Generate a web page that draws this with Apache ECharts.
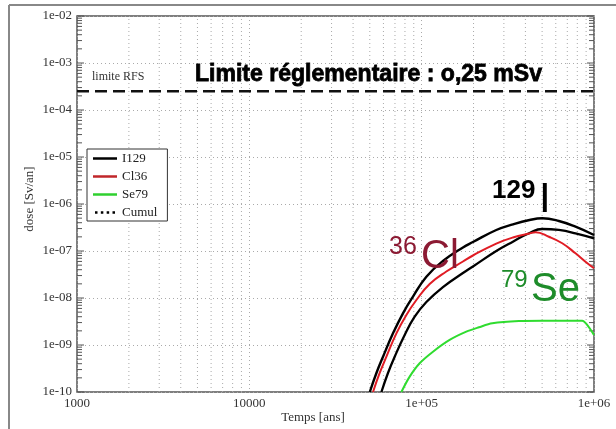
<!DOCTYPE html>
<html><head><meta charset="utf-8">
<script src="https://cdn.jsdelivr.net/npm/echarts@6/dist/echarts.min.js"></script>
<style>html,body{margin:0;padding:0;background:#fff}#c{width:616px;height:429px}</style>
</head><body><div id="c"></div>
<script>
// ---- data ----
const cumulT = [50000, 54640, 59670, 68180, 77900, 89060, 106500, 132900, 173600, 198400, 271000, 338300, 422800, 500800, 625200, 781000, 1000000];
const cumulV = [1.0e-10, 2.54e-10, 5.64e-10, 1.77e-9, 4.72e-9, 1.07e-8, 2.84e-8, 6.12e-8, 1.19e-7, 1.55e-7, 2.80e-7, 3.70e-7, 4.57e-7, 4.96e-7, 4.35e-7, 3.29e-7, 2.19e-7];
const i129T = [58400, 63760, 69730, 79690, 91080, 106500, 132900, 173600, 198400, 271000, 338300, 422800, 500800, 625200, 781000, 1000000];
const i129V = [1.0e-10, 2.54e-10, 5.64e-10, 1.63e-9, 4.0e-9, 8.22e-9, 1.71e-8, 3.40e-8, 4.68e-8, 1.0e-7, 1.58e-7, 2.42e-7, 2.94e-7, 2.80e-7, 2.38e-7, 1.86e-7];
const cl36T = [52210, 57080, 62430, 71340, 81520, 93180, 111270, 139060, 173600, 198400, 271000, 338300, 422800, 458000, 547000, 654300, 781000, 892500, 1000000];
const cl36V = [1.0e-10, 2.54e-10, 5.64e-10, 1.77e-9, 4.35e-9, 9.06e-9, 1.99e-8, 3.66e-8, 5.98e-8, 8.02e-8, 1.44e-7, 1.94e-7, 2.36e-7, 2.50e-7, 2.01e-7, 1.46e-7, 8.93e-8, 5.92e-8, 4.28e-8];
const se79T = [76250, 85200, 97360, 116300, 145300, 181600, 214900, 257000, 366600, 500800, 854400, 912900, 1000000];
const se79V = [1.0e-10, 2.12e-10, 4.08e-10, 7.2e-10, 1.28e-9, 1.92e-9, 2.38e-9, 2.90e-9, 3.24e-9, 3.29e-9, 3.29e-9, 2.67e-9, 1.63e-9];
const limitValue = 2.5e-4;
const seriesNames = ['I129', 'Cl36', 'Se79', 'Cumul'];
const xTitle = 'Temps [ans]';
const yTitle = 'dose [Sv/an]';
const xMin = 1000, xMax = 1e6, yMin = 1e-10, yMax = 1e-2;

// minor grid / tick values (2..9 per decade)
const xMinorVals = [];
for (let d = 3; d < 6; d++) for (let m = 2; m <= 9; m++) xMinorVals.push(m * Math.pow(10, d));
const yTickVals = [];
for (let d = -10; d < -2; d++) for (let m = 1; m <= 9; m++) yTickVals.push([m * Math.pow(10, d), m === 1 ? 1 : 0]);
yTickVals.push([1e-2, 1]);

const zip = (a, b) => a.map((t, i) => [t, b[i]]);
const SERIF = 'Liberation Serif';

function yFmt(v) {
  const e = Math.round(Math.log10(v));
  return '1e' + (e < 0 ? '-' : '+') + String(Math.abs(e)).padStart(2, '0');
}
function xFmt(v) {
  const e = Math.round(Math.log10(v));
  if (e <= 4) return String(Math.round(v));
  return '1e+' + String(e).padStart(2, '0');
}

const dotsIcon = 'path://M0,0h3v3h-3z M7,0h3v3h-3z M14,0h3v3h-3z M21,0h3v3h-3z';

const chart = echarts.init(document.getElementById('c'), null, {renderer: 'canvas'});
chart.setOption({
  backgroundColor: '#fff',
  animation: false,
  grid: {left: 77, top: 16, right: 22, bottom: 37, show: true, borderColor: '#555', borderWidth: 1.5, backgroundColor: 'transparent'},
  xAxis: {
    type: 'log', logBase: 10, min: xMin, max: xMax, splitNumber: 3,
    axisLine: {show: false}, axisTick: {show: false},
    axisLabel: {formatter: xFmt, fontFamily: SERIF, fontSize: 13, color: '#333', margin: 5},
    splitLine: {show: true, lineStyle: {color: '#aaa', type: [1, 3], width: 1}}
  },
  yAxis: {
    type: 'log', logBase: 10, min: yMin, max: yMax, splitNumber: 8,
    axisLine: {show: false}, axisTick: {show: false},
    axisLabel: {formatter: yFmt, fontFamily: SERIF, fontSize: 13, color: '#333', margin: 5},
    splitLine: {show: true, lineStyle: {color: '#aaa', type: [1, 3], width: 1}}
  },
  legend: {
    orient: 'vertical', left: 87, top: 149,
    padding: [3, 10, 2, 6], itemWidth: 24, itemHeight: 2.5, itemGap: 5,
    icon: 'rect',
    borderColor: '#333', borderWidth: 1, backgroundColor: '#fff', borderRadius: 0,
    textStyle: {fontFamily: SERIF, fontSize: 13, color: '#222'},
    data: [
      {name: 'I129'}, {name: 'Cl36'}, {name: 'Se79'},
      {name: 'Cumul', icon: dotsIcon}
    ]
  },
  series: [
    {
      type: 'custom', name: 'xminor', silent: true, z: 1,
      data: xMinorVals.map(v => [v, yMin]),
      encode: {x: 0, y: 1},
      renderItem: function (params, api) {
        const v = api.value(0);
        const p1 = api.coord([v, yMin]), p2 = api.coord([v, yMax]);
        return {type: 'line', shape: {x1: p1[0], y1: p1[1], x2: p2[0], y2: p2[1]},
          style: {stroke: '#aaa', lineWidth: 1, lineDash: [1, 3]}};
      }
    },
    {
      type: 'custom', name: 'yticks', silent: true, z: 3,
      data: yTickVals.map(p => [xMin, p[0], p[1]]),
      encode: {x: 0, y: 1},
      renderItem: function (params, api) {
        const v = api.value(1), major = api.value(2);
        const L = api.coord([xMin, v]), R = api.coord([xMax, v]);
        const len = major ? 7 : 5;
        return {type: 'group', children: [
          {type: 'line', shape: {x1: L[0], y1: L[1], x2: L[0] + len, y2: L[1]}, style: {stroke: '#555', lineWidth: 1}},
          {type: 'line', shape: {x1: R[0], y1: R[1], x2: R[0] - len, y2: R[1]}, style: {stroke: '#555', lineWidth: 1}}
        ]};
      }
    },
    {name: 'limite', type: 'line', data: [[xMin, limitValue], [xMax, limitValue]], symbol: 'none', silent: true,
      lineStyle: {color: '#111', type: [12, 6], width: 2.5}, z: 4},
    {name: 'I129', type: 'line', data: zip(i129T, i129V), showSymbol: false, symbol: 'none', smooth: 0.45,
      lineStyle: {color: '#000', width: 2.3}, itemStyle: {color: '#000'}, z: 5},
    {name: 'Cl36', type: 'line', data: zip(cl36T, cl36V), showSymbol: false, symbol: 'none', smooth: 0.45,
      lineStyle: {color: '#e01c24', width: 2}, itemStyle: {color: '#c0262a'}, z: 5},
    {name: 'Se79', type: 'line', data: zip(se79T, se79V), showSymbol: false, symbol: 'none', smooth: 0.3,
      lineStyle: {color: '#2fdc2f', width: 2}, itemStyle: {color: '#2fd02f'}, z: 5},
    {name: 'Cumul', type: 'line', data: zip(cumulT, cumulV), showSymbol: false, symbol: 'none', smooth: 0.45,
      lineStyle: {color: '#000', width: 2.4}, itemStyle: {color: '#000'}, z: 5}
  ],
  graphic: [
    {type: 'line', shape: {x1: 9, y1: 5, x2: 616, y2: 5}, style: {stroke: '#888', lineWidth: 2}, z: 0},
    {type: 'line', shape: {x1: 9, y1: 5, x2: 9, y2: 429}, style: {stroke: '#888', lineWidth: 2}, z: 0},
    {type: 'text', x: 92, y: 77, style: {text: 'limite RFS', font: '12px "Liberation Serif"', fill: '#333', textVerticalAlign: 'middle'}, z: 10},
    {type: 'text', x: 195, y: 74, scaleX: 0.96, style: {text: 'Limite réglementaire : o,25 mSv', font: 'bold 24px "Liberation Sans"', fill: '#000', stroke: '#000', lineWidth: 0.8, textVerticalAlign: 'middle'}, z: 10},
    {type: 'text', x: 30, y: 199, rotation: Math.PI / 2, style: {text: yTitle, font: '13px "Liberation Serif"', fill: '#333', textAlign: 'center', textVerticalAlign: 'middle'}, z: 10},
    {type: 'text', x: 313, y: 418, style: {text: xTitle, font: '13px "Liberation Serif"', fill: '#333', textAlign: 'center', textVerticalAlign: 'middle'}, z: 10},
    {type: 'text', x: 492, y: 191, style: {text: '129', font: 'bold 26px "Liberation Sans"', fill: '#000', textVerticalAlign: 'middle'}, z: 10},
    {type: 'text', x: 539, y: 200, style: {text: 'I', font: '42px "Liberation Sans"', fill: '#000', textVerticalAlign: 'middle'}, z: 10},
    {type: 'text', x: 389, y: 247.5, style: {text: '36', font: '25px "Liberation Sans"', fill: '#8c1a33', textVerticalAlign: 'middle'}, z: 10},
    {type: 'text', x: 421, y: 257, style: {text: 'Cl', font: '40px "Liberation Sans"', fill: '#8c1a33', textVerticalAlign: 'middle'}, z: 10},
    {type: 'text', x: 501, y: 280, style: {text: '79', font: '24px "Liberation Sans"', fill: '#1e8c2a', textVerticalAlign: 'middle'}, z: 10},
    {type: 'text', x: 531, y: 289.5, style: {text: 'Se', font: '40px "Liberation Sans"', fill: '#1e8c2a', textVerticalAlign: 'middle'}, z: 10}
  ]
});
</script></body></html>
